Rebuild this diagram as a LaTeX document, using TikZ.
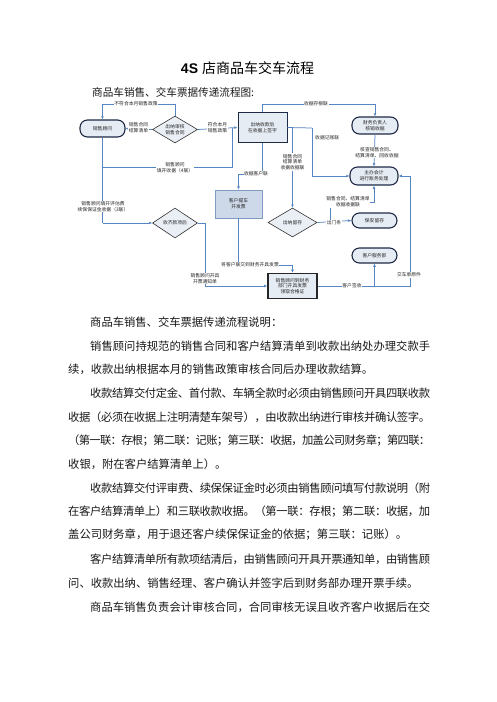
\documentclass[tikz,border=0pt]{standalone}
\usepackage{fontspec}
\setmainfont{Noto Sans CJK SC}
\newfontfamily\latfont{Liberation Sans}
\usetikzlibrary{shapes.geometric,arrows.meta}
\definecolor{lineblue}{HTML}{5585C2}
\definecolor{navy}{HTML}{1E2A46}
\definecolor{boxfill}{HTML}{E6ECF4}
\definecolor{kfill}{HTML}{CDD8E8}
\definecolor{kdraw}{HTML}{7F9BC2}
\definecolor{dfill}{HTML}{EAEFF6}
\makeatletter
\def\jl@loop#1{\ifx#1\relax\else\hskip0pt plus 1fil minus 1fil#1\expandafter\jl@loop\fi}
\def\jl@first#1{#1\jl@loop}
\newcommand\jline[2]{\hbox to #1{\jl@first#2\relax}}
\makeatother
\tikzset{
  conn/.style={draw=lineblue, line width=0.75pt},
  arr/.style={-{Latex[length=3.2pt,width=2.8pt]}},
  fc/.style={font=\fontsize{4.8}{5.8}\selectfont, text=black!85, align=center},
  lbl/.style={fc, fill=white, inner sep=0.5pt},
  stad/.style={fc, draw=navy, line width=1.1pt, fill=boxfill, rounded corners=7.5pt, inner sep=0pt},
  dia/.style={fc, shape=diamond, draw=black!80, line width=0.6pt, fill=dfill, inner sep=0pt, aspect=1.6},
  body/.style={anchor=west, inner sep=0pt, font=\fontsize{11.3}{12}\selectfont, text=black!90},
}
\begin{document}
\begin{tikzpicture}[x=1pt,y=-1pt]
\useasboundingbox (0,0) rectangle (496,702);
\fill[white] (0,0) rectangle (496,702);

% title
\node[inner sep=0pt, text=black] (title) at (247.5,68) {{\latfont\bfseries\fontsize{14}{16}\selectfont 4S }{\fontsize{14}{16}\selectfont 店商品车交车流程}};
\node[anchor=west, inner sep=0pt, font=\fontsize{10.6}{12}\selectfont, text=black!90] (sub) at (92,92) {商品车销售、交车票据传递流程图:};

% ---------- flowchart ----------
\node[stad, minimum width=45pt, minimum height=17pt] (sg) at (102.5,128.5) {销售顾问};
\node[dia, minimum width=45pt, minimum height=27pt] (d1) at (175,129.5) {出纳审核\\销售合同};
\node[fc, draw=navy, line width=1pt, fill=boxfill, minimum width=49pt, minimum height=30pt, inner sep=0pt] (b1) at (262.5,127.5) {出纳收款后\\在收据上签字};
\node[stad, minimum width=46pt, minimum height=17pt] (fz) at (375,125.5) {财务负责人\\核销收据};
\node[stad, minimum width=48pt, minimum height=18pt] (zk) at (374,176) {主办会计\\进行账务处理};
\node[fc, draw=kdraw, line width=0.7pt, fill=kfill, minimum width=47pt, minimum height=28pt, inner sep=0pt] (kt) at (238.5,204) {客户提车\\开发票};
\node[dia, minimum width=45pt, minimum height=30pt] (d2) at (175,223) {收齐款项后};
\node[dia, minimum width=49pt, minimum height=29pt] (d3) at (292.5,222.5) {出纳留存};
\node[stad, minimum width=45pt, minimum height=15pt] (ba) at (374.5,220.5) {保安留存};
\node[stad, minimum width=45pt, minimum height=15pt] (kf) at (374.5,255.5) {客户服务部};
\node[fc, draw=black!85, line width=1.3pt, fill=boxfill, minimum width=49pt, minimum height=25pt, inner sep=0pt] (kc) at (292.5,286) {销售顾问到财务\\部门开具发票\\领取合格证};

% coordinates
\coordinate (c1) at (102.5,104);
\coordinate (c2) at (102.5,167);
\coordinate (c3) at (232,167);
\coordinate (c4) at (232,128);
\coordinate (c5) at (262.5,104);
\coordinate (c6) at (375,104);
\coordinate (c7) at (312,128);
\coordinate (c8) at (312,176);
\coordinate (c9) at (292.5,128);
\coordinate (c10) at (262.5,174);
\coordinate (c11) at (238.5,174);
\coordinate (c12) at (102.5,223);
\coordinate (c13) at (330,222.5);
\coordinate (c14) at (330,202);
\coordinate (c15) at (374,202);
\coordinate (c16) at (238.5,265);
\coordinate (c17) at (292.5,265);
\coordinate (c18) at (205,223);
\coordinate (c19) at (205,286);
\coordinate (c20) at (410,286);
\coordinate (c21) at (410,176);
\coordinate (c22) at (374.5,286);

% connectors
\draw[conn,arr] (d1.north) |- (c1) -- (sg.north);
\draw[conn,arr] (d1.west) -- (sg.east);
\draw[conn,arr] (d1.east) -- (b1.west);
\draw[conn] (sg.south) -- (c12);
\draw[conn,arr] (c12) -- (d2.west);
\draw[conn] (c2) -- (c3) -- (c4);
\draw[conn,arr] (b1.north) -- (c5) -- (c6) -- (fz.north);
\draw[conn] (b1.east) -- (c7);
\draw[conn,arr] (c7) -- (c8) -- (zk.west);
\draw[conn,arr] (c9) -- (d3.north);
\draw[conn,arr] (b1.south) -- (c10) -- (c11) -- (kt.north);
\draw[conn,arr] (fz.south) -- (zk.north);
\draw[conn,arr] (d3.east) -- (ba.west);
\draw[conn,arr] (c13) -- (c14) -- (c15) -- (zk.south);
\draw[conn,arr] (kt.south) -- (c16) -- (c17) -- (kc.north);
\draw[conn,arr] (d2.east) -- (c18) -- (c19) -- (kc.west);
\draw[conn,arr] (kc.east) -- (c20) -- (c21) -- (zk.east);
\draw[conn,arr] (c22) -- (kf.south);

% connector labels
\node[lbl] (l1) at (136,104) {不符合本月销售政策};
\node[lbl] (l2) at (138.5,127.5) {销售合同\\结算清单};
\node[lbl] (l3) at (217.5,127.5) {符合本月\\销售政策};
\node[lbl] (l4) at (175,168) {销售顾问\\填开收据（4联）};
\node[lbl] (l5) at (103,206.5) {销售顾问填开评估费\\续保保证金收据（3联）};
\node[lbl] (l6) at (316,104) {收据存根联};
\node[fc, anchor=west, inner sep=0.5pt] (l7) at (314.5,138) {收据记账联};
\node[lbl] (l8) at (292.5,162) {销售合同\\结算清单\\收据收据联};
\node[lbl] (l9) at (256,174) {收据客户联};
\node[lbl] (l10) at (377,152.5) {核查销售合同、\\结算清单、回收收据};
\node[lbl] (l11) at (334,222.5) {出门条};
\node[lbl] (l12) at (348,202) {销售合同、结算清单\\收据收据联};
\node[lbl] (l13) at (250,265) {将客户联交到财务开具发票};
\node[lbl] (l14) at (205,278.5) {销售顾问开具\\开票通知单};
\node[lbl] (l15) at (352,286) {客户签收};
\node[lbl] (l16) at (409,275) {交车单原件};

% ---------- body text ----------
\node[body] (t0) at (90,322) {商品车销售、交车票据传递流程说明：};
\node[body] (t1) at (90,346) {\jline{340pt}{销售顾问持规范的销售合同和客户结算清单到收款出纳处办理交款手}};
\node[body] (t2) at (68,369.5) {续，收款出纳根据本月的销售政策审核合同后办理收款结算。};
\node[body] (t3) at (90,393) {\jline{340pt}{收款结算交付定金、首付款、车辆全款时必须由销售顾问开具四联收款}};
\node[body] (t4) at (68,417) {\jline{362pt}{收据（必须在收据上注明清楚车架号），由收款出纳进行审核并确认签字。}};
\node[body] (t5) at (68,440.5) {\jline{362pt}{（第一联：存根；第二联：记账；第三联：收据，加盖公司财务章；第四联：}};
\node[body] (t6) at (68,464) {收银，附在客户结算清单上）。};
\node[body] (t7) at (90,488) {\jline{340pt}{收款结算交付评审费、续保保证金时必须由销售顾问填写付款说明（附}};
\node[body] (t8) at (68,511.5) {\jline{362pt}{在客户结算清单上）和三联收款收据。（第一联：存根；第二联：收据，加}};
\node[body] (t9) at (68,535) {盖公司财务章，用于退还客户续保保证金的依据；第三联：记账）。};
\node[body] (t10) at (90,559) {\jline{340pt}{客户结算清单所有款项结清后，由销售顾问开具开票通知单，由销售顾}};
\node[body] (t11) at (68,583) {问、收款出纳、销售经理、客户确认并签字后到财务部办理开票手续。};
\node[body] (t12) at (90,607) {\jline{340pt}{商品车销售负责会计审核合同，合同审核无误且收齐客户收据后在交}};
\end{tikzpicture}
\end{document}
